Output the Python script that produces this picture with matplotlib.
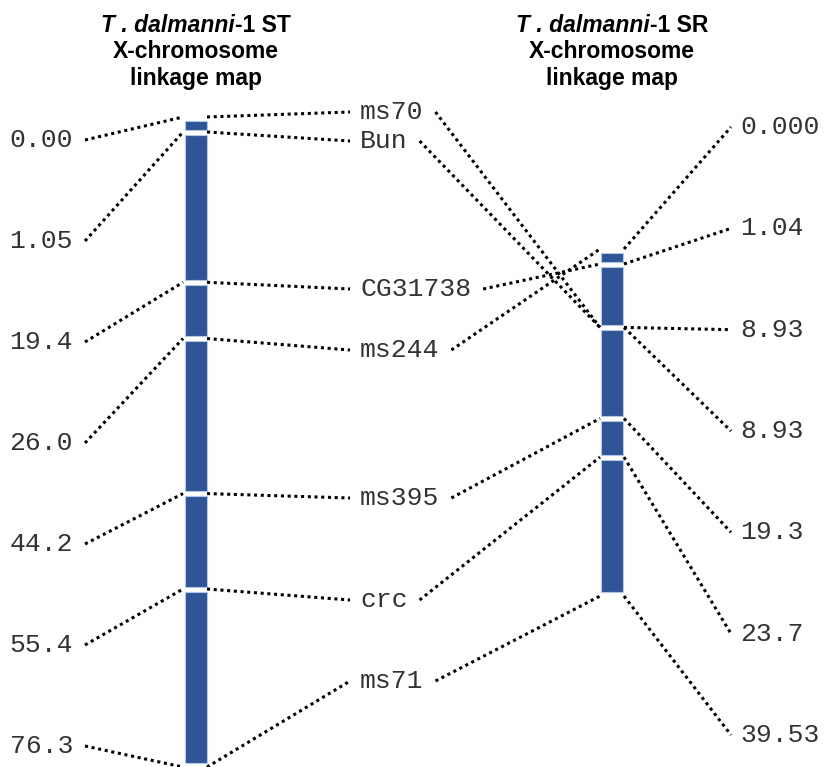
import matplotlib
matplotlib.use('Agg')
import matplotlib.pyplot as plt
from matplotlib.patches import Rectangle

# markers in the order they sit on the ST map
markers = ['ms70', 'Bun', 'CG31738', 'ms244', 'ms395', 'crc', 'ms71']
st_cm = [0.00, 1.05, 19.4, 26.0, 44.2, 55.4, 76.3]
st_labels = ['0.00', '1.05', '19.4', '26.0', '44.2', '55.4', '76.3']

# same markers on the SR map
sr_cm = [8.93, 8.93, 1.04, 0.000, 19.3, 23.7, 39.53]
sr_labels = ['0.000', '1.04', '8.93', '8.93', '19.3', '23.7', '39.53']

st_title = ['T . dalmanni', '-1 ST']
sr_title = ['T . dalmanni', '-1 SR']

# layout (pixels)
W, H = 826, 767
BAR_W = 22
ST_X, SR_X = 196, 612
ST_TOP, ST_SCALE = 117, 8.52
SR_TOP, SR_SCALE = 249, 8.78
MIN_GAP = 15
GAP = 5
INSET = 4
MID_X = 360
MID_LABEL_Y = [112, 141, 289, 350, 498, 600, 681]
BAR_COLOR = '#2F5597'
TEXT_COLOR = '#333333'
DOTS = dict(color='black', lw=2.2, linestyle=(0, (1, 1.2)))
MONO = dict(family='Liberation Mono', fontsize=19, color=TEXT_COLOR)

plt.rcParams['font.family'] = ['Liberation Sans', 'DejaVu Sans']

fig = plt.figure(figsize=(W / 100, H / 100), dpi=100)
ax = fig.add_axes([0, 0, 1, 1])
ax.set_xlim(0, W)
ax.set_ylim(H, 0)
ax.axis('off')
renderer = fig.canvas.get_renderer()


def positions(cms, top, scale):
    # y of each distinct locus, pushed apart when too close
    ys = {}
    prev = None
    for c in sorted(set(cms)):
        y = top + c * scale
        if prev is not None and y - prev < MIN_GAP:
            y = prev + MIN_GAP
        ys[c] = y
        prev = y
    return ys


def draw_bar(xc, ys):
    levels = sorted(ys.values())
    edges = [levels[0] + INSET]
    for y in levels[1:-1]:
        edges += [y - GAP / 2, y + GAP / 2]
    edges.append(levels[-1] - INSET)
    for a, b in zip(edges[::2], edges[1::2]):
        ax.add_patch(Rectangle((xc - BAR_W / 2, a), BAR_W, b - a,
                               facecolor=BAR_COLOR, edgecolor='#B4C7E7', lw=0.8))


def text_width(t):
    bb = t.get_window_extent(renderer=renderer)
    return bb.width


def draw_title(xc, first):
    t1 = ax.text(0, 25, first[0], style='italic', weight='bold', fontsize=16.5,
                 ha='left', va='center')
    t2 = ax.text(0, 25, first[1], weight='bold', fontsize=16.5, ha='left', va='center')
    w1, w2 = text_width(t1), text_width(t2)
    x0 = xc - (w1 + w2) / 2
    t1.set_x(x0)
    t2.set_x(x0 + w1)
    ax.text(xc, 52, 'X-chromosome', weight='bold', fontsize=16.5, ha='center', va='center')
    ax.text(xc, 79, 'linkage map', weight='bold', fontsize=16.5, ha='center', va='center')


st_y = positions(st_cm, ST_TOP, ST_SCALE)
sr_y = positions(sr_cm, SR_TOP, SR_SCALE)

draw_bar(ST_X, st_y)
draw_bar(SR_X, sr_y)
draw_title(ST_X, st_title)
draw_title(SR_X, sr_title)

# left side: ST distances
n = len(st_labels)
for i, (c, lab) in enumerate(zip(st_cm, st_labels)):
    ly = 140 + i * (746 - 140) / (n - 1)
    ax.text(73, ly, lab, ha='right', va='center', **MONO)
    ax.plot([85, ST_X - BAR_W / 2 - 2], [ly, st_y[c]], **DOTS)

# middle: marker names linking both maps
for name, c1, c2, my in zip(markers, st_cm, sr_cm, MID_LABEL_Y):
    t = ax.text(MID_X, my, name, ha='left', va='center', **MONO)
    ax.plot([ST_X + BAR_W / 2, MID_X - 10], [st_y[c1], my], **DOTS)
    x_end = MID_X + text_width(t) + 12
    ax.plot([x_end, SR_X - BAR_W / 2 - 1], [my, sr_y[c2]], **DOTS)

# right side: SR distances
sr_sorted = sorted(sr_cm)
for i, (c, lab) in enumerate(zip(sr_sorted, sr_labels)):
    ry = 127 + i * (735 - 127) / (n - 1)
    ax.text(740, ry, lab, ha='left', va='center', **MONO)
    ax.plot([SR_X + BAR_W / 2 + 1, 731], [sr_y[c], ry], **DOTS)

fig.savefig('out.png', dpi=100)
